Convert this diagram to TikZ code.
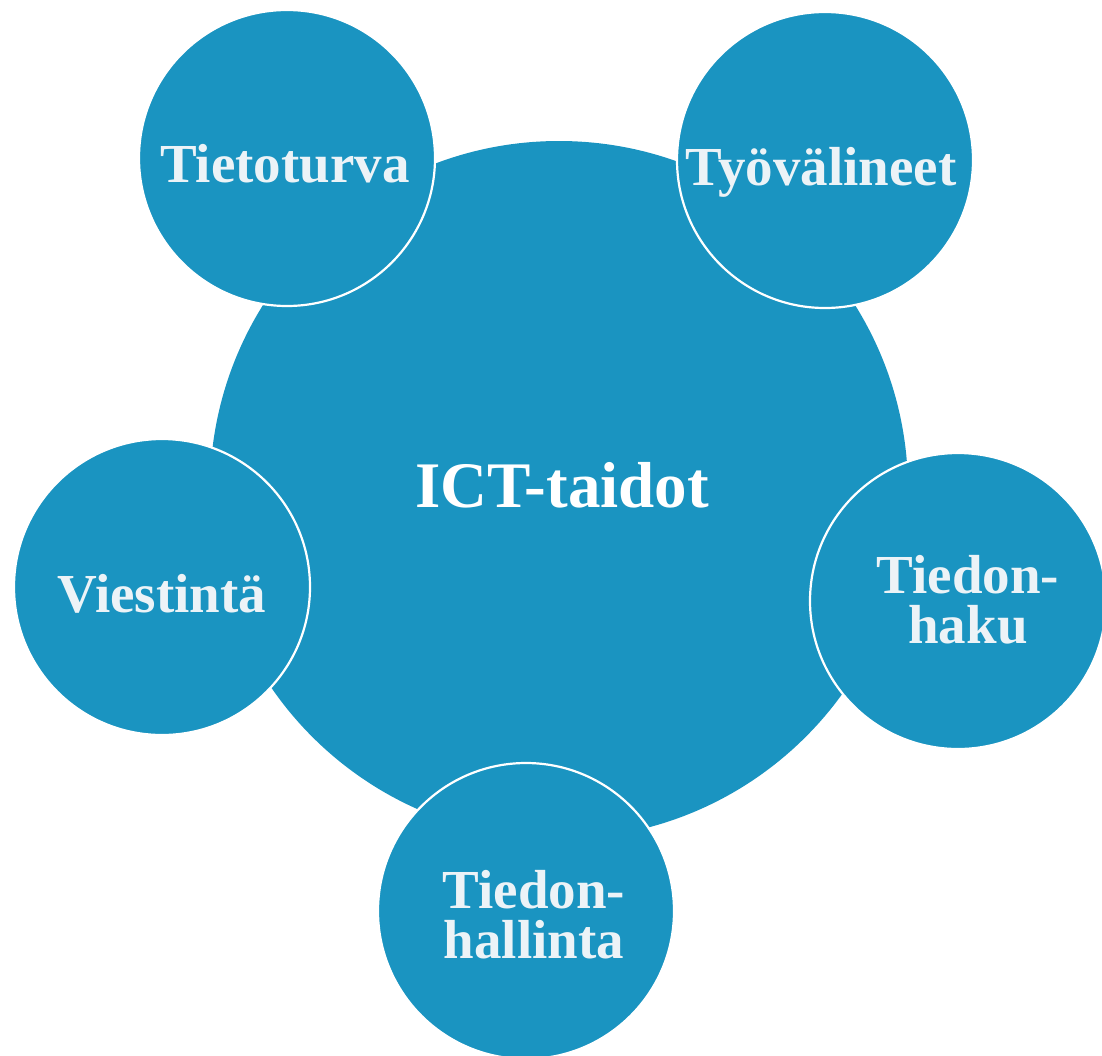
\documentclass[tikz,border=0pt]{standalone}
\usepackage{fontspec}
\setmainfont{Liberation Serif}
\definecolor{ictblue}{RGB}{26,148,193}
\definecolor{chalk}{RGB}{236,243,247}
\begin{document}
\begin{tikzpicture}[x=1pt,y=-1pt,
  hub/.style={circle,fill=ictblue,minimum size=698pt,inner sep=0pt},
  satellite/.style={circle,fill=ictblue,draw=white,line width=2.2pt,minimum size=296pt,inner sep=0pt},
  hubtext/.style={font=\bfseries\fontsize{65}{70}\selectfont,text=white,inner sep=0pt},
  sattext/.style={font=\bfseries\fontsize{55}{50}\selectfont,text=chalk,inner sep=0pt,align=center}]
  \useasboundingbox (0,0) rectangle (1102,1055);
  \clip (0,0) rectangle (1102,1055);

  % central circle
  \node[hub] (core) at (559,490) {};

  % surrounding circles
  \node[satellite] (security) at (287,158) {};
  \node[satellite] (tools)    at (825,160) {};
  \node[satellite] (comm)     at (162,587) {};
  \node[satellite] (search)   at (958,601) {};
  \node[satellite] (manage)   at (526,911) {};

  % labels
  \node[hubtext,anchor=base] (coretext) at (562,507) {ICT-taidot};
  \node[sattext,anchor=base] (securitytext) at (285,182) {Tietoturva};
  \node[sattext,anchor=base] (toolstext) at (821,185) {Työvälineet};
  \node[sattext,anchor=base] (commtext) at (162,612) {Viestintä};
  \node[sattext] (searchtext) at (968,600) {Tiedon-\\haku};
  \node[sattext] (managetext) at (534,915) {Tiedon-\\hallinta};
\end{tikzpicture}
\end{document}
